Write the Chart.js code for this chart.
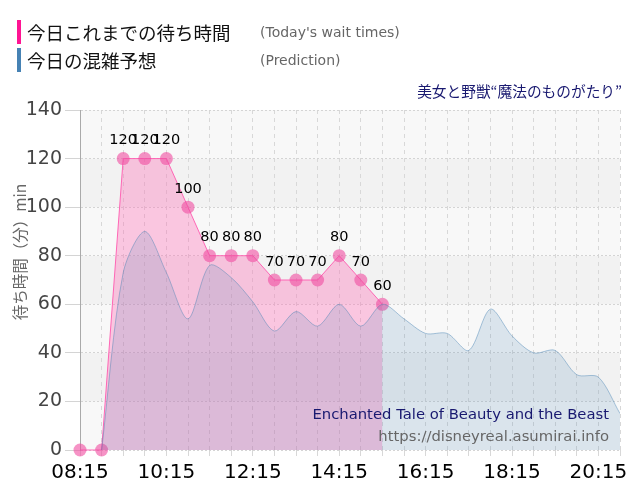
<!DOCTYPE html>
<html>
<head>
<meta charset="utf-8">
<script src="https://cdn.jsdelivr.net/npm/chart.js@4.4.0/dist/chart.umd.min.js"></script>
<style>
  body { margin: 0; background: #fff; font-family: "DejaVu Sans", sans-serif; }
  #wrap { position: relative; width: 640px; height: 500px; }
  canvas { position: absolute; left: 0; top: 0; }
  .lg { position: absolute; left: 17px; height: 24px; display: flex; align-items: center; }
  .lg .bar { width: 4px; height: 24px; margin-right: 6px; }
  .lg .jp { font-family: "Noto Sans CJK JP", sans-serif; font-size: 18.5px; color: #111; width: 233px; }
  .lg .en { font-family: "DejaVu Sans", sans-serif; font-size: 14px; color: #666; }
  .title { position: absolute; right: 18px; top: 80px; font-family: "Noto Sans CJK JP", sans-serif; font-size: 14.7px; color: #191970; }
  .wm { position: absolute; right: 31px; font-size: 14.8px; white-space: nowrap; }
</style>
</head>
<body>
<div id="wrap">
  <canvas id="waitChart" width="640" height="500"></canvas>
  <div class="lg" style="top:20px"><span class="bar" style="background:#ff1493"></span><span class="jp">今日これまでの待ち時間</span><span class="en">(Today's wait times)</span></div>
  <div class="lg" style="top:48px"><span class="bar" style="background:#4682b4"></span><span class="jp">今日の混雑予想</span><span class="en">(Prediction)</span></div>
  <div class="title">美女と野獣“魔法のものがたり”</div>
  <div class="wm" style="top:405px;color:#191970">Enchanted Tale of Beauty and the Beast</div>
  <div class="wm" style="top:427px;color:#666">https://disneyreal.asumirai.info</div>
</div>
<script>
// 実績（30分ごと）
const actualTimes = ['08:15','08:45','09:15','09:45','10:15','10:45','11:15','11:45','12:15','12:45','13:15','13:45','14:15','14:45','15:15'];
const actualWait = [0, 0, 120, 120, 120, 100, 80, 80, 80, 70, 70, 70, 80, 70, 60];

// 予想
const predTimes = ['08:15','08:45','09:15','09:45','10:15','10:45','11:15','11:45','12:15','12:45','13:15','13:45','14:15',
                   '14:45','15:15','15:45','16:15','16:45','17:15','17:45','18:15','18:45','19:15','19:45','20:15','20:45'];
const predWait = [null, 0, 73, 90, 73, 54, 76, 71, 61, 49, 57, 51, 60, 51, 60, 54, 48, 48, 41, 58, 47, 40, 41, 31, 30, 15];

const xStart = '08:15';
const xEnd = '20:45';
const yTicks = [0, 20, 40, 60, 80, 100, 120, 140];
const yTitle = '待ち時間（分）min';

const toMin = s => { const [h, m] = s.split(':').map(Number); return h * 60 + m; };
const fmt = v => String(Math.floor(v / 60)).padStart(2, '0') + ':' + String(v % 60).padStart(2, '0');

const bandPlugin = {
    id: 'bands',
    beforeDraw(chart) {
        const { ctx, chartArea: a, scales: { y } } = chart;
        ctx.save();
        for (let i = 0; i < yTicks.length - 1; i++) {
            const top = y.getPixelForValue(yTicks[i + 1]);
            const bot = y.getPixelForValue(yTicks[i]);
            ctx.fillStyle = i % 2 === 0 ? '#f8f8f8' : '#f2f2f2';
            ctx.fillRect(a.left, top, a.right - a.left, bot - top);
        }
        ctx.restore();
    },
    afterDraw(chart) {
        // 縦軸タイトル（少し上寄り）
        const { ctx } = chart;
        ctx.save();
        ctx.translate(20, 252);
        ctx.rotate(-Math.PI / 2);
        ctx.font = '15.5px "Noto Sans CJK JP"';
        ctx.fillStyle = '#666';
        ctx.textAlign = 'center';
        ctx.textBaseline = 'middle';
        ctx.fillText(yTitle, 0, 0);
        ctx.restore();
    }
};

const labelPlugin = {
    id: 'pointLabels',
    afterDatasetsDraw(chart) {
        const { ctx } = chart;
        const meta = chart.getDatasetMeta(1);
        ctx.save();
        ctx.font = '14.5px "DejaVu Sans"';
        ctx.fillStyle = '#000';
        ctx.textAlign = 'center';
        ctx.textBaseline = 'bottom';
        meta.data.forEach((pt, i) => {
            if (actualWait[i] > 0) ctx.fillText(actualWait[i], pt.x, pt.y - 11);
        });
        ctx.restore();
    }
};

const ctx = document.getElementById('waitChart').getContext('2d');
new Chart(ctx, {
    type: 'line',
    data: {
        datasets: [
            {
                label: '今日の混雑予想',
                data: predTimes.map((t, i) => ({ x: toMin(t), y: predWait[i] })),
                borderColor: 'rgba(70,130,180,0.45)',
                backgroundColor: 'rgba(70,130,180,0.17)',
                borderWidth: 1,
                fill: 'origin',
                tension: 0.3,
                pointRadius: 0,
                order: 0
            },
            {
                label: '今日これまでの待ち時間',
                data: actualTimes.map((t, i) => ({ x: toMin(t), y: actualWait[i] })),
                borderColor: 'rgba(255,90,175,0.9)',
                backgroundColor: 'rgba(255,105,180,0.35)',
                borderWidth: 1,
                fill: 'origin',
                tension: 0,
                pointRadius: 6.5,
                pointBorderWidth: 0,
                pointBackgroundColor: 'rgba(240,75,160,0.6)',
                clip: 10,
                order: 1
            }
        ]
    },
    options: {
        responsive: false,
        animation: false,
        layout: { padding: { top: 110, right: 20, left: 0, bottom: 0 } },
        plugins: { legend: { display: false }, tooltip: { enabled: false } },
        scales: {
            x: {
                type: 'linear',
                min: toMin(xStart),
                max: toMin(xEnd),
                afterFit: s => { s.height = 50; },
                afterBuildTicks: s => {
                    s.ticks = [];
                    for (let v = toMin(xStart); v <= toMin(xEnd); v += 30) s.ticks.push({ value: v });
                },
                ticks: {
                    autoSkip: false,
                    maxRotation: 0,
                    color: '#000',
                    font: { family: 'DejaVu Sans', size: 20 },
                    padding: 5,
                    callback: v => ((v - toMin(xStart)) % 120 === 0 ? fmt(v) : '')
                },
                grid: { color: '#d8d8d8', tickLength: 6 },
                border: { display: false, dash: [4, 4] }
            },
            y: {
                min: 0,
                max: 140,
                afterFit: s => { s.width = 80; },
                ticks: { stepSize: 20, color: '#444', font: { family: 'DejaVu Sans', size: 19 }, padding: 3 },
                grid: { color: '#d4d4d4', tickLength: 15 },
                border: { display: true, color: '#aaa', dash: [2, 2] },
                title: { display: false }
            }
        }
    },
    plugins: [bandPlugin, labelPlugin]
});
</script>
</body>
</html>
